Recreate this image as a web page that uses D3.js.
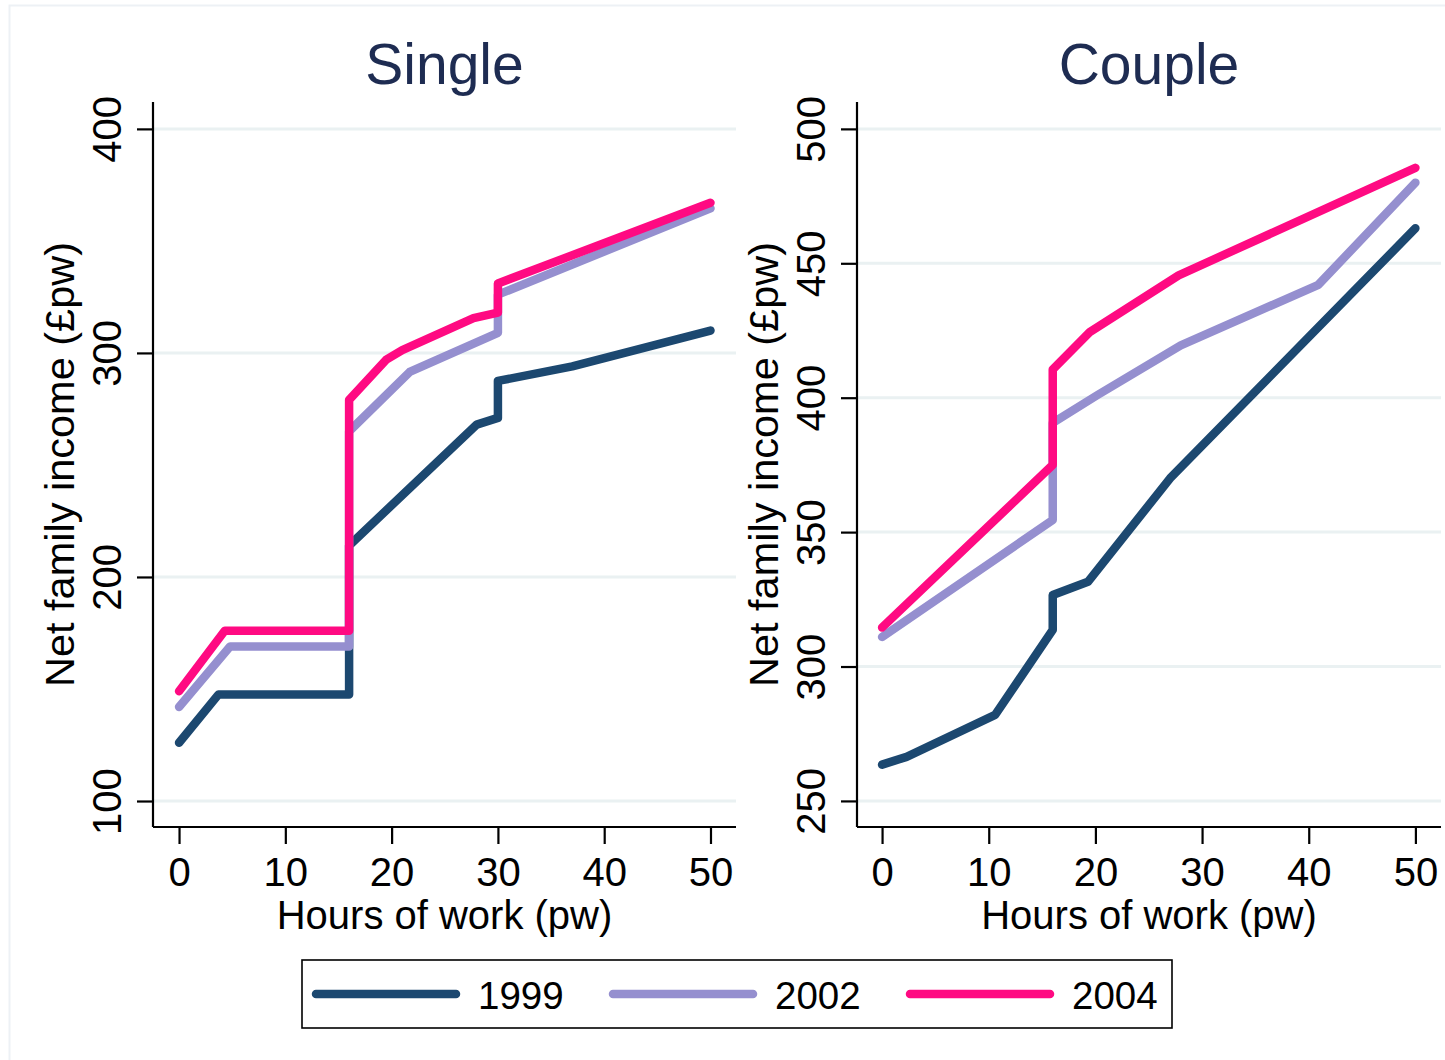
<!DOCTYPE html>
<html><head><meta charset="utf-8">
<script src="https://cdn.jsdelivr.net/npm/d3@7"></script>
<style>body{margin:0;background:#fff}svg{display:block}text{font-family:"Liberation Sans",Arial,sans-serif}</style>
</head><body>
<script>
// ---- data ----
const years = ["1999", "2002", "2004"];
const colors = ["#1c4870", "#958fcf", "#ff0a82"];
const xTicks = [0, 10, 20, 30, 40, 50];
const singleYTicks = [100, 200, 300, 400];
const coupleYTicks = [250, 300, 350, 400, 450, 500];

// Single panel (hours, net family income)
const single1999Hours = [0, 3.7, 16, 16, 28, 30, 30, 37, 50];
const single1999Income = [126, 147.5, 147.5, 214, 268, 271, 287.5, 294, 310];
const single2002Hours = [0, 4.8, 16, 16, 21.7, 30, 30, 50];
const single2002Income = [142, 169, 169, 265, 291.5, 309, 326, 364.5];
const single2004Hours = [0, 4.3, 16, 16, 19.5, 21, 27.7, 30, 30, 50];
const single2004Income = [149, 176, 176, 279, 297, 301.3, 315.5, 318, 331, 367];

// Couple panel
const couple1999Hours = [0, 2.3, 10.6, 16, 16, 19.3, 27, 50];
const couple1999Income = [263.5, 266.4, 282, 313.6, 326.6, 331.5, 370, 463];
const couple2002Hours = [0, 16, 16, 20.2, 28, 40.9, 50];
const couple2002Income = [311, 354.5, 390.6, 401, 419.5, 442, 480];
const couple2004Hours = [0, 16, 16, 19.5, 27.8, 50];
const couple2004Income = [314.5, 375, 410.5, 424.5, 445.5, 485.5];

const panels = [
  {title: "Single", left: 153, right: 736, xDom: [-2.45, 52.4], yDom: [88.4, 412], yTicks: singleYTicks,
   series: [[single1999Hours, single1999Income], [single2002Hours, single2002Income], [single2004Hours, single2004Income]]},
  {title: "Couple", left: 857, right: 1441, xDom: [-2.35, 52.4], yDom: [240.3, 510], yTicks: coupleYTicks,
   series: [[couple1999Hours, couple1999Income], [couple2002Hours, couple2002Income], [couple2004Hours, couple2004Income]]}
];

const W = 1445, H = 1060, topY = 102, bottomY = 827;
const svg = d3.select("body").append("svg").attr("width", W).attr("height", H);
svg.append("rect").attr("width", W).attr("height", H).attr("fill", "#fff");
svg.append("rect").attr("x", 9.5).attr("y", 5.5).attr("width", 1500).attr("height", 1500)
  .attr("fill", "none").attr("stroke", "#edf1f5").attr("stroke-width", 2);

panels.forEach(p => {
  const x = d3.scaleLinear().domain(p.xDom).range([p.left, p.right]);
  const y = d3.scaleLinear().domain(p.yDom).range([bottomY, topY]);
  const g = svg.append("g");
  // gridlines
  g.selectAll(".grid").data(p.yTicks).join("line")
    .attr("x1", p.left + 1).attr("x2", p.right)
    .attr("y1", d => y(d)).attr("y2", d => y(d))
    .attr("stroke", "#eaf1f2").attr("stroke-width", 3);
  // lines
  const line = d3.line().x(d => x(d[0])).y(d => y(d[1]));
  p.series.forEach((s, i) => {
    const pts = s[0].map((h, k) => [h, s[1][k]]);
    g.append("path").datum(pts).attr("d", line).attr("fill", "none")
      .attr("stroke", colors[i]).attr("stroke-width", 8.5)
      .attr("stroke-linecap", "round").attr("stroke-linejoin", "round");
  });
  // axes
  const xa = g.append("g").attr("transform", `translate(0,${bottomY})`)
    .call(d3.axisBottom(x).tickValues(xTicks).tickSize(17).tickPadding(13).tickSizeOuter(0));
  xa.select(".domain").attr("d", `M${p.left},0H${p.right}`).attr("stroke-width", 2.2);
  xa.selectAll(".tick line").attr("stroke-width", 2.2);
  xa.selectAll(".tick text").attr("font-size", 40).attr("fill", "#000").attr("dy", "0.72em");
  const ya = g.append("g").attr("transform", `translate(${p.left},0)`)
    .call(d3.axisLeft(y).tickValues(p.yTicks).tickSize(16).tickFormat(d3.format("d")).tickSizeOuter(0));
  ya.select(".domain").attr("d", `M0,${topY}V${bottomY}`).attr("stroke-width", 2.2);
  ya.selectAll(".tick line").attr("stroke-width", 2.2);
  ya.selectAll(".tick text").attr("font-size", 40).attr("fill", "#000")
    .attr("x", null).attr("dy", null).attr("text-anchor", "middle")
    .attr("transform", "translate(-32,0) rotate(-90)");
  // titles
  const cx = (p.left + p.right) / 2;
  svg.append("text").attr("x", cx).attr("y", 84).attr("text-anchor", "middle")
    .attr("font-size", 57).attr("fill", "#1e2c52").text(p.title);
  svg.append("text").attr("x", cx).attr("y", 929).attr("text-anchor", "middle")
    .attr("font-size", 40).attr("fill", "#000").text("Hours of work (pw)");
  svg.append("text").attr("transform", `translate(${p.left - 79},${(topY + bottomY) / 2}) rotate(-90)`)
    .attr("text-anchor", "middle").attr("font-size", 41.5).attr("fill", "#000").text("Net family income (£pw)");
});

// legend
const lg = svg.append("g");
lg.append("rect").attr("x", 302).attr("y", 960).attr("width", 870).attr("height", 68)
  .attr("fill", "#fff").attr("stroke", "#000").attr("stroke-width", 1.6);
const legX = [316, 613, 910];
years.forEach((yr, i) => {
  lg.append("line").attr("x1", legX[i]).attr("x2", legX[i] + 140).attr("y1", 994).attr("y2", 994)
    .attr("stroke", colors[i]).attr("stroke-width", 8.5).attr("stroke-linecap", "round");
  lg.append("text").attr("x", legX[i] + 162).attr("y", 1009).attr("font-size", 38.5).attr("fill", "#000").text(yr);
});
</script>
</body></html>
